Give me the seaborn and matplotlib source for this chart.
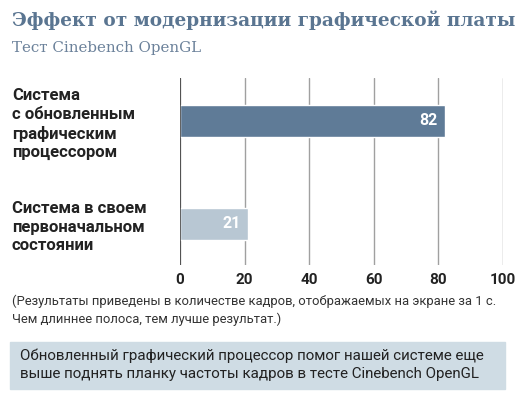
import matplotlib
matplotlib.use("Agg")
import matplotlib.pyplot as plt
import seaborn as sns
import pandas as pd
from matplotlib.patches import Rectangle

# данные
categories = ["Система\nс обновленным\nграфическим\nпроцессором",
              "Система в своем\nпервоначальном\nсостоянии"]
values = [82, 21]
bar_colors = ["#5f7b97", "#b8c7d3"]
x_ticks = [0, 20, 40, 60, 80, 100]

title = "Эффект от модернизации графической платы"
subtitle = "Тест Cinebench OpenGL"
note = ("(Результаты приведены в количестве кадров, отображаемых на экране за 1 с.\n"
        "Чем длиннее полоса, тем лучше результат.)")
box_text = ("Обновленный графический процессор помог нашей системе еще\n"
            "выше поднять планку частоты кадров в тесте Cinebench OpenGL")

sns.set_style("white")
plt.rcParams['font.family'] = ['Roboto', 'DejaVu Sans']

W, H = 530, 398
fig = plt.figure(figsize=(W / 100, H / 100), dpi=100)
ax = fig.add_axes([180 / W, 1 - 265 / H, 323 / W, 187 / H])

df = pd.DataFrame({"cat": categories, "val": values})
sns.barplot(data=df, x="val", y="cat", hue="cat", palette=bar_colors,
            legend=False, width=0.31, ax=ax, saturation=1)

ax.set_xlim(0, 100)
ax.set_ylim(1.398, -0.417)
ax.set_xticks(x_ticks)
ax.set_xticklabels([str(t) for t in x_ticks], fontsize=11, fontweight='bold', color="#222222")
ax.set_xlabel("")
ax.set_ylabel("")
for s in ax.spines.values():
    s.set_visible(False)
ax.grid(axis='x', color="#a0a0a0", linewidth=1)
ax.axvline(0, color="#444444", linewidth=1.2, zorder=3)
ax.set_axisbelow(True)
ax.tick_params(axis='both', length=0)
ax.tick_params(axis='x', pad=6)

ax.set_yticks(range(len(categories)))
ax.set_yticklabels(categories, fontsize=12, fontweight='bold', color="#222222",
                   ha='left', linespacing=1.3)
ax.tick_params(axis='y', pad=121)

for i, v in enumerate(values):
    ax.annotate(str(v), (v, i), xytext=(-5, 0), textcoords='offset points',
                ha='right', va='center', color='white', fontsize=11.5, fontweight='bold')

fig.text(12 / W, 1 - 20 / H, title, fontsize=13.3, fontweight='bold', color="#5a7591",
         family=['DejaVu Serif'], va='center', ha='left')
fig.text(12 / W, 1 - 48 / H, subtitle, fontsize=10.8, color="#6b819a",
         family=['DejaVu Serif'], va='center', ha='left')

fig.text(12 / W, 1 - 310 / H, note, fontsize=9.35, color="#333333", va='center', ha='left',
         linespacing=1.45)

fig.patches.append(Rectangle((10 / W, 1 - 389 / H), 495 / W, 47 / H,
                             transform=fig.transFigure, color="#cfdce4", zorder=0))
fig.text(20 / W, 1 - 365 / H, box_text, fontsize=10.9, color="#222222", va='center', ha='left',
         linespacing=1.4)

fig.savefig("out.png", dpi=100)
